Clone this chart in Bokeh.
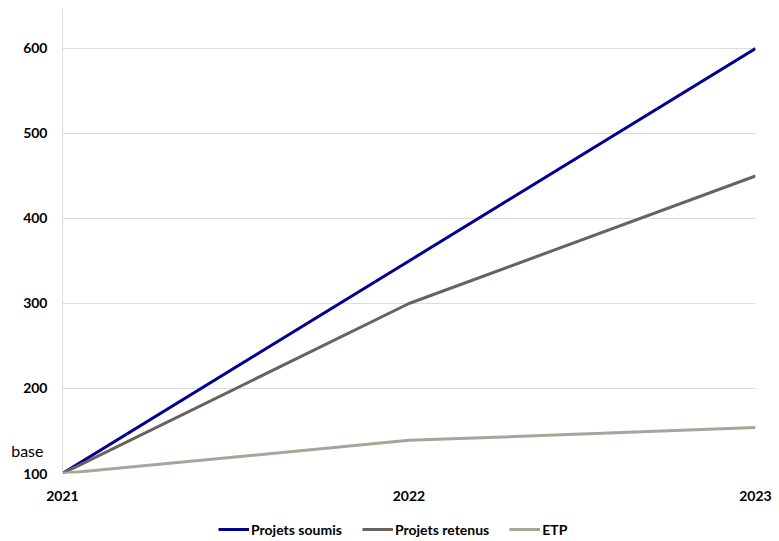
from bokeh.plotting import figure
from bokeh.layouts import column
from bokeh.models import Legend, LegendItem, LinearAxis, FixedTicker, Range1d
from bokeh.embed import file_html
from bokeh.resources import INLINE

years = [2021, 2022, 2023]
projets_soumis = [100, 350, 600]
projets_retenus = [100, 300, 450]
etp = [100, 139, 154]
y_ticks = [100, 200, 300, 400, 500, 600]
base_tick = [127]
base_text = {127: "base"}
series_names = ["Projets soumis", "Projets retenus", "ETP"]
series_colors = ["#000091", "#6a625c", "#aaa39a"]
series_values = [projets_soumis, projets_retenus, etp]

FONT = "Lato"

p = figure(width=779, height=505, output_backend="svg", toolbar_location=None,
           x_range=Range1d(2021, 2023), y_range=Range1d(100, 647),
           min_border_left=62, min_border_right=24, min_border_top=8, min_border_bottom=32)
p.outline_line_color = None
p.background_fill_color = "white"

for vals, col in zip(series_values, series_colors):
    p.line(years, vals, line_color=col, line_width=3)

p.yaxis.ticker = FixedTicker(ticks=y_ticks)
p.xaxis.ticker = FixedTicker(ticks=years)
for ax in (p.xaxis, p.yaxis):
    ax.major_tick_line_color = None
    ax.minor_tick_line_color = None
    ax.major_label_text_font = FONT
    ax.major_label_text_font_style = "bold"
    ax.major_label_text_font_size = "14px"
    ax.major_label_text_color = "black"
p.yaxis.axis_line_color = "#dcdcdc"
p.xaxis.axis_line_color = None
p.yaxis.major_label_standoff = 9
p.xaxis.major_label_standoff = 11
p.xgrid.grid_line_color = None
p.ygrid.grid_line_color = "#dcdcdc"
p.ygrid.ticker = FixedTicker(ticks=y_ticks)

base_axis = LinearAxis(ticker=FixedTicker(ticks=base_tick), major_label_overrides=base_text,
                       axis_line_color=None, major_tick_line_color=None,
                       minor_tick_line_color=None, major_label_standoff=-29,
                       major_label_text_font=FONT, major_label_text_font_size="16px",
                       major_label_text_color="black")
p.add_layout(base_axis, "left")

# legend strip (its lines fall outside its own frame, only the legend shows)
q = figure(width=779, height=36, output_backend="svg", toolbar_location=None,
           x_axis_type=None, y_axis_type=None, min_border=0,
           x_range=Range1d(0, 1), y_range=Range1d(0, 1))
q.outline_line_color = None
q.xgrid.grid_line_color = None
q.ygrid.grid_line_color = None
items = []
for name, vals, col in zip(series_names, series_values, series_colors):
    r = q.line(years, vals, line_color=col, line_width=3)
    items.append(LegendItem(label=name, renderers=[r]))
legend = Legend(items=items, orientation="horizontal", location=(156, 2),
                border_line_color=None, background_fill_alpha=0,
                label_text_font=FONT, label_text_font_style="bold",
                label_text_color="black",
                label_text_font_size="14px", glyph_width=31, spacing=20,
                label_standoff=2, margin=0, padding=0)
q.add_layout(legend, "center")

layout = column(p, q, spacing=0)
open("out.html", "w").write(file_html(layout, INLINE))
